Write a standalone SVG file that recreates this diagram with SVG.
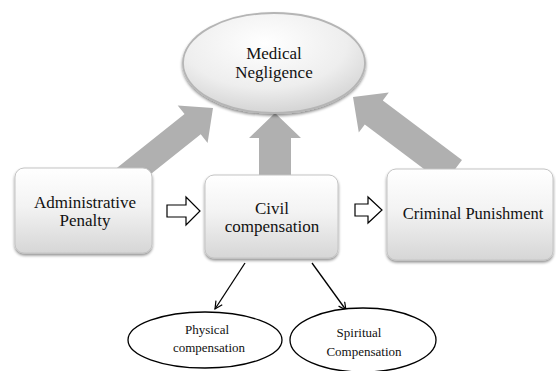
<svg xmlns="http://www.w3.org/2000/svg" width="556" height="371" viewBox="0 0 556 371">
  <style>
    text { fill: #111; text-anchor: middle; }
    .big { font-size: 17px; }
    .mid { font-size: 16.5px; }
    .small { font-size: 13px; }
    .block { fill: #b0b0b0; }
    .box { fill: url(#boxGrad); stroke: #c4c4c4; stroke-width: 1; filter: url(#shadow); }
    .oval { fill: #fff; stroke: #000; stroke-width: 1.3; }
    .hollow { fill: #fff; stroke: #000; stroke-width: 1.2; stroke-linejoin: miter; }
    .thin { stroke: #000; stroke-width: 1.3; fill: none; marker-end: url(#vhead); }
  </style>
  <defs>
    <linearGradient id="boxGrad" x1="0" y1="0" x2="0" y2="1">
      <stop offset="0" stop-color="#ffffff"/>
      <stop offset="0.45" stop-color="#f3f3f3"/>
      <stop offset="1" stop-color="#d6d6d6"/>
    </linearGradient>
    <radialGradient id="ovalGrad" cx="0.45" cy="0.3" r="0.75">
      <stop offset="0" stop-color="#ffffff"/>
      <stop offset="0.6" stop-color="#eeeeee"/>
      <stop offset="1" stop-color="#cfcfcf"/>
    </radialGradient>
    <filter id="shadow" x="-10%" y="-10%" width="125%" height="130%">
      <feGaussianBlur in="SourceAlpha" stdDeviation="1.6"/>
      <feOffset dx="0" dy="2" result="b"/>
      <feComponentTransfer><feFuncA type="linear" slope="0.45"/></feComponentTransfer>
      <feMerge><feMergeNode/><feMergeNode in="SourceGraphic"/></feMerge>
    </filter>
    <marker id="vhead" viewBox="0 0 12 12" refX="11" refY="6" markerWidth="9" markerHeight="9" orient="auto" markerUnits="userSpaceOnUse">
      <polyline points="1,1 11,6 1,11" fill="none" stroke="#000" stroke-width="1.6"/>
    </marker>
  </defs>

  <!-- thick grey block arrows feeding the top ellipse -->
  <g id="connectors">
    <polygon class="block" transform="translate(213,108) rotate(-38.5)" points="0,0 -26,-24 -26,-13 -125,-13 -125,13 -26,13 -26,24"/>
    <polygon class="block" transform="translate(275,113) rotate(-90)" points="0,0 -25,-26 -25,-16 -75,-16 -75,16 -25,16 -25,26"/>
    <polygon class="block" transform="translate(353,97) rotate(216.9)" points="0,0 -26,-25 -26,-15 -125,-15 -125,15 -26,15 -26,25"/>

    <!-- hollow arrows between the boxes -->
    <polygon class="hollow" points="167,205 186,205 186,197 200,211 186,225 186,217 167,217"/>
    <polygon class="hollow" points="355,204 368,204 368,197 382,210 368,223 368,216 355,216"/>

    <!-- thin arrows to the compensation types -->
    <line class="thin" x1="245" y1="263" x2="215" y2="309"/>
    <line class="thin" x1="312" y1="263" x2="346" y2="310"/>
  </g>

  <g id="labels-font" font-family="Liberation Serif, serif">
  <g id="medical-negligence">
    <ellipse cx="274" cy="63" rx="91" ry="50" fill="url(#ovalGrad)" stroke="#b5b5b5" stroke-width="1.8" filter="url(#shadow)"/>
    <text class="big" x="274" y="59">Medical</text>
    <text class="big" x="274" y="78">Negligence</text>
  </g>

  <g id="administrative-penalty">
    <rect class="box" x="15" y="168" width="137" height="85" rx="9"/>
    <text class="big" x="85" y="208">Administrative</text>
    <text class="big" x="85" y="226">Penalty</text>
  </g>

  <g id="civil-compensation">
    <rect class="box" x="205" y="175" width="133" height="83" rx="9"/>
    <text class="big" x="272" y="214">Civil</text>
    <text class="big" x="272" y="232">compensation</text>
  </g>

  <g id="criminal-punishment">
    <rect class="box" x="387" y="169" width="166" height="91" rx="9"/>
    <text class="mid" x="473" y="219">Criminal Punishment</text>
  </g>

  <g id="physical-compensation">
    <ellipse class="oval" cx="205" cy="340" rx="77" ry="28"/>
    <text class="small" x="207" y="334">Physical</text>
    <text class="small" x="209" y="352">compensation</text>
  </g>

  <g id="spiritual-compensation">
    <ellipse class="oval" cx="363" cy="340" rx="73" ry="32"/>
    <text class="small" x="359" y="337">Spiritual</text>
    <text class="small" x="364" y="356">Compensation</text>
  </g>
  </g>
</svg>
